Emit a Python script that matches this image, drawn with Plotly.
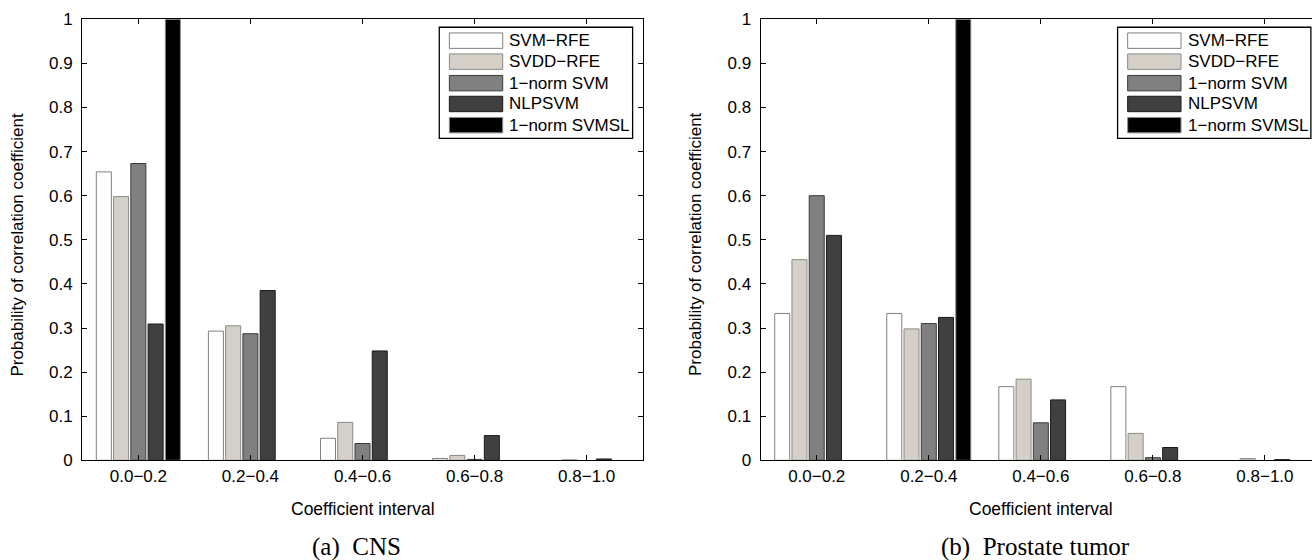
import plotly.graph_objects as go

categories = ["0.0\u22120.2", "0.2\u22120.4", "0.4\u22120.6", "0.6\u22120.8", "0.8\u22121.0"]
methods = ["SVM\u2212RFE", "SVDD\u2212RFE", "1\u2212norm SVM", "NLPSVM", "1\u2212norm SVMSL"]

# (a) CNS
cns_svm_rfe = [0.654, 0.293, 0.050, 0.004, 0.0]
cns_svdd_rfe = [0.598, 0.305, 0.086, 0.011, 0.001]
cns_1norm_svm = [0.673, 0.287, 0.038, 0.002, 0.0]
cns_nlpsvm = [0.309, 0.385, 0.248, 0.056, 0.003]
cns_1norm_svmsl = [1.0, 0.0, 0.0, 0.0, 0.0]

# (b) Prostate tumor
pro_svm_rfe = [0.333, 0.333, 0.167, 0.167, 0.0]
pro_svdd_rfe = [0.455, 0.298, 0.184, 0.061, 0.004]
pro_1norm_svm = [0.600, 0.310, 0.085, 0.006, 0.0]
pro_nlpsvm = [0.510, 0.324, 0.137, 0.029, 0.0015]
pro_1norm_svmsl = [0.0, 1.0, 0.0, 0.0, 0.0]

fills = ["#ffffff", "#d4d0c8", "#808080", "#404040", "#000000"]
edges = ["#808080", "#8a8a8a", "#3a3a3a", "#1a1a1a", "#8c8c8c"]

x_pos = list(range(1, len(categories) + 1))

fig = go.Figure()

panels = [
    ("x", "y", [cns_svm_rfe, cns_svdd_rfe, cns_1norm_svm, cns_nlpsvm, cns_1norm_svmsl]),
    ("x2", "y2", [pro_svm_rfe, pro_svdd_rfe, pro_1norm_svm, pro_nlpsvm, pro_1norm_svmsl]),
]

for xa, ya, series in panels:
    for name, vals, fc, ec in zip(methods, series, fills, edges):
        fig.add_trace(go.Bar(
            x=x_pos, y=[v if v > 0 else None for v in vals], name=name, xaxis=xa, yaxis=ya,
            marker=dict(color=fc, line=dict(color=ec, width=1)),
            showlegend=False,
        ))

FONT = "Liberation Sans, Arial, Helvetica, sans-serif"
SERIF = "Liberation Serif, Times New Roman, serif"

H = 560.0
W = 1312.0
ydom = [1 - 460.3 / H, 1 - 19.3 / H]

common_x = dict(
    tickmode="array", tickvals=x_pos, ticktext=categories,
    ticks="inside", ticklen=5, tickwidth=1, tickcolor="black",
    showline=True, linecolor="black", linewidth=1.3, mirror="ticks",
    showgrid=False, zeroline=False, automargin=False,
    tickfont=dict(family=FONT, size=17, color="black"),
    ticklabelstandoff=0,
)
common_y = dict(
    range=[0, 1], tickmode="array",
    tickvals=[0, 0.1, 0.2, 0.3, 0.4, 0.5, 0.6, 0.7, 0.8, 0.9, 1.0],
    ticktext=["0", "0.1", "0.2", "0.3", "0.4", "0.5", "0.6", "0.7", "0.8", "0.9", "1"],
    ticks="inside", ticklen=5, tickwidth=1, tickcolor="black",
    showline=True, linecolor="black", linewidth=1.3,
    showgrid=False, zeroline=False, automargin=False,
    tickfont=dict(family=FONT, size=17, color="black"),
    ticklabelstandoff=5,
)

fig.update_layout(
    width=1312, height=560,
    margin=dict(l=0, r=0, t=0, b=0, autoexpand=False),
    paper_bgcolor="white", plot_bgcolor="white",
    barmode="group", bargap=0.23, bargroupgap=0.13,
    showlegend=False,
    xaxis=dict(domain=[82.3 / W, 642.7 / W], range=[0.5, 5.5], anchor="y", **common_x),
    yaxis=dict(domain=ydom, anchor="x", mirror="ticks", **common_y),
    xaxis2=dict(domain=[760.7 / W, 1.0], range=[0.5, 5.42], anchor="y2", **common_x),
    yaxis2=dict(domain=ydom, anchor="x2", mirror=False, **common_y),
)

# legends drawn inside each panel (upper right)
shapes = []
annotations = []
row_y = [0.9516, 0.904, 0.8552, 0.808, 0.760]
for xa, ya in [("x", "y"), ("x2", "y2")]:
    shapes.append(dict(type="rect", xref=xa, yref=ya, x0=3.685, x1=5.41, y0=0.730, y1=0.982,
                       line=dict(color="black", width=1.3), fillcolor="white", layer="above"))
    for name, fc, ec, ry in zip(methods, fills, edges, row_y):
        shapes.append(dict(type="rect", xref=xa, yref=ya, x0=3.775, x1=4.251,
                           y0=ry - 0.0175, y1=ry + 0.0175,
                           line=dict(color=ec, width=1), fillcolor=fc, layer="above"))
        annotations.append(dict(text=name, xref=xa, yref=ya, x=4.292, y=ry,
                                xanchor="left", yanchor="middle", showarrow=False,
                                font=dict(family=FONT, size=17, color="black")))

# axis titles and captions
for xa, cap in [("x", "(a)\u00a0 CNS"), ("x2", "(b)\u00a0 Prostate tumor")]:
    dom = xa + " domain"
    annotations.append(dict(text="Coefficient interval", xref=dom, yref="paper",
                            x=0.5 if xa == "x" else 0.5 * 560.4 / 551.3, y=1 - 509 / H,
                            xanchor="center", yanchor="middle", showarrow=False,
                            font=dict(family=FONT, size=17.5, color="black")))
    annotations.append(dict(text=cap, xref=dom, yref="paper",
                            x=0.49 if xa == "x" else 0.49 * 560.4 / 551.3, y=1 - 546.7 / H,
                            xanchor="center", yanchor="middle", showarrow=False,
                            font=dict(family=SERIF, size=25, color="black")))
    annotations.append(dict(text="Probability of correlation coefficient",
                            xref=dom, yref="paper", x=0, y=(ydom[0] + ydom[1]) / 2 - 0.008,
                            xanchor="center", yanchor="middle", xshift=-65, textangle=-90,
                            showarrow=False, font=dict(family=FONT, size=17, color="black")))

fig.update_layout(shapes=shapes, annotations=annotations)

fig.write_html(
    "out.html",
    config={"displayModeBar": False},
    post_script="document.body.style.margin='0px';document.body.style.overflow='hidden';",
)
